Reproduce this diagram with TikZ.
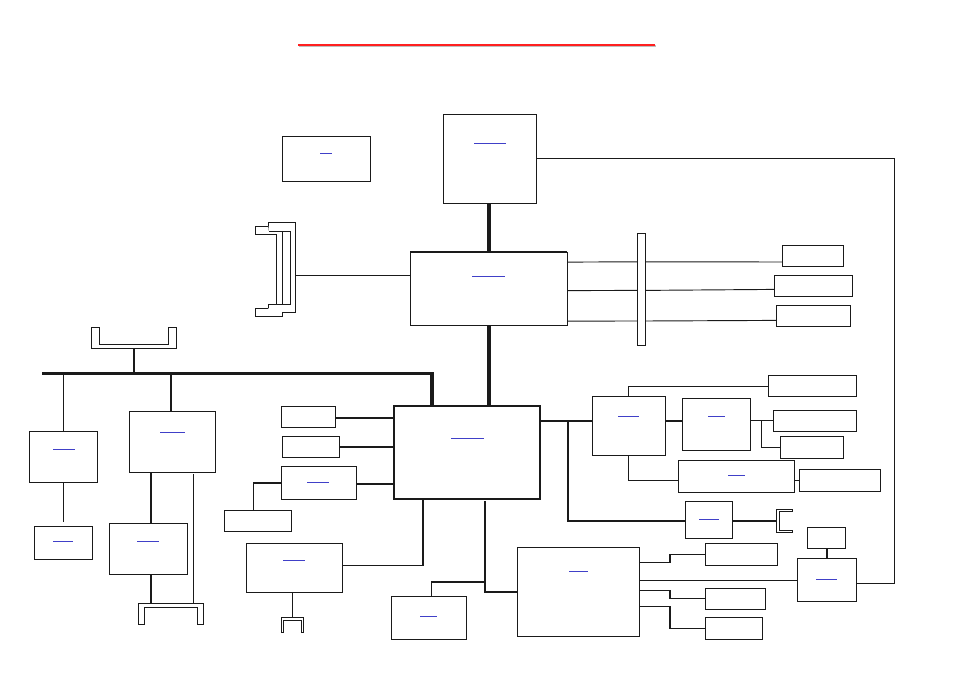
\documentclass[tikz,border=0pt]{standalone}
\definecolor{ink}{HTML}{1A1A1A}
\definecolor{linkblue}{HTML}{4040C8}
\definecolor{rulered}{HTML}{FF2020}
\newcommand{\pbox}[6][]{%
  \pgfmathsetmacro{\bw}{(#5-#3)*0.75}%
  \pgfmathsetmacro{\bh}{(#6-#4)*0.75}%
  \pgfmathsetmacro{\bcx}{(#5+#3)/2}%
  \pgfmathsetmacro{\bcy}{(#6+#4)/2}%
  \node[pbx,#1,minimum width=\bw pt,minimum height=\bh pt] (#2) at (\bcx,\bcy) {};}
\tikzset{
  x=0.75pt,y=-0.75pt,
  pbx/.style={draw=ink,fill=white,line width=0.8pt,inner sep=0pt,outer sep=0pt},
  fine/.style={draw=ink,line width=0.8pt},
  mid/.style={draw=ink,line width=1.3pt},
  wide/.style={draw=ink,line width=1.6pt},
  heavy/.style={draw=ink,line width=2.6pt},
  outline/.style={draw=ink,fill=white,line width=0.8pt},
  linkline/.style={draw=linkblue,line width=0.6pt},
}
\begin{document}
\begin{tikzpicture}
\useasboundingbox (0,0) rectangle (954,674);
% title rule
\draw[gray!50,line width=1.5pt] (299,46) -- (656,46);
\draw[rulered,line width=1.5pt] (298,45) -- (655,45);
% boxes
\pbox{note}{282.3}{136.3}{370.3}{181.3}
\pbox{cpu}{443.3}{114.3}{536.3}{203.3}
\pbox{nb}{410.3}{252.3}{567.3}{325.3}
\pbox{sb}{394}{406}{540.3}{499}
\pbox{bar}{637.3}{233.3}{645.3}{345.3}
\pbox{ra}{782.3}{245.3}{843.3}{266.3}
\pbox{rb}{774.3}{275.3}{852.3}{296.3}
\pbox{rc}{776.3}{305.3}{850.3}{326.3}
\pbox{la}{29.3}{431.3}{97.3}{482.3}
\pbox{lb}{34.3}{526.3}{92.3}{559.3}
\pbox{ma}{129.3}{411.3}{215.3}{472.3}
\pbox{mb}{109.3}{523.3}{187.3}{574.3}
\pbox{ia}{281.3}{406.3}{335.3}{427.3}
\pbox{ib}{282.3}{436.3}{339.3}{457.3}
\pbox{ic}{281.3}{466.3}{356.3}{499.3}
\pbox{id}{224.3}{510.3}{291.3}{531.3}
\pbox{ie}{246.3}{543.3}{342.3}{592.3}
\pbox{ig}{391.3}{596.3}{466.3}{639.3}
\pbox{big}{517.3}{547.3}{639.7}{636.3}
\pbox{pa}{592.3}{396.3}{665.3}{455.3}
\pbox{pb}{682.3}{398.3}{750.3}{450.3}
\pbox{pc}{768.3}{375.3}{856.3}{396.3}
\pbox{pd}{773.3}{410.3}{856.3}{431.3}
\pbox{pe}{780.3}{436.3}{843.3}{458.3}
\pbox{pf}{678.3}{460.3}{794.3}{492.3}
\pbox{pg}{799.3}{469.3}{880.3}{491.3}
\pbox{ph}{685.3}{501.3}{732.3}{538.3}
\pbox{qa}{807.3}{527.3}{845.3}{548.3}
\pbox{qb}{797.3}{558.3}{856.3}{601.3}
\pbox{qc}{705.3}{543.3}{777.3}{565.3}
\pbox{qd}{705.3}{588.3}{765.3}{609.3}
\pbox{qe}{705.3}{617.3}{762.3}{639.3}
% heavier edges
\draw[wide] (sb.north west) rectangle (sb.south east);
\draw[line width=1.5pt,draw=ink] (nb.north west) -- (nb.north east);
% connector shapes
\draw[outline] (268.3,222.3) -- (295.3,222.3) -- (295.3,312.3) -- (268.3,312.3) -- (268.3,304.3) -- (290.3,304.3) -- (290.3,231.3) -- (268.3,231.3) -- cycle;
\draw[outline] (268.3,226.3) -- (255.3,226.3) -- (255.3,234.3) -- (276.3,234.3) -- (276.3,304.3);
\draw[fine] (282.3,231.3) -- (282.3,304.3);
\draw[outline] (268.3,308.3) -- (255.3,308.3) -- (255.3,316.3) -- (282.3,316.3) -- (282.3,312.3);
\draw[outline] (91.3,327.3) -- (99.3,327.3) -- (99.3,344.3) -- (168.3,344.3) -- (168.3,327.3) -- (176.3,327.3) -- (176.3,348.3) -- (91.3,348.3) -- cycle;
\draw[outline] (138.3,624.3) -- (138.3,603.3) -- (203.3,603.3) -- (203.3,624.3) -- (197.3,624.3) -- (197.3,607.3) -- (144.3,607.3) -- (144.3,624.3) -- cycle;
\draw[outline] (281.3,632.3) -- (281.3,617.3) -- (303.7,617.3) -- (303.7,632.3) -- (301.3,632.3) -- (301.3,620.3) -- (283.3,620.3) -- (283.3,632.3) -- cycle;
\draw[outline] (792.7,509.3) -- (776.3,509.3) -- (776.3,532.7) -- (792.7,532.7) -- (792.7,530.3) -- (779.3,530.3) -- (779.3,511.7) -- (792.7,511.7) -- cycle;
\coordinate (cnL) at (295.3,275.3);
\coordinate (cnT) at (134,348.3);
\coordinate (cnB) at (151,603.3);
\coordinate (cnBr) at (193.3,603.3);
\coordinate (cnF) at (292.3,617.3);
\coordinate (cnE) at (776.3,521);
\coordinate (busL) at (42,373.3);
\coordinate (busR) at (433.5,373.3);
% main links
\draw[heavy] (489,0 |- cpu.south) -- (489,0 |- nb.north);
\draw[heavy] (489,0 |- nb.south) -- (489,0 |- sb.north);
\draw[heavy] (busL) -- (busR);
\draw[heavy] (432,373.3) -- (432,0 |- sb.north);
\draw[wide] (cnT) -- (134,373.3);
\draw[wide] (171,373.3) -- (171,0 |- ma.north);
\draw[fine] (63.3,373.3) -- (63.3,0 |- la.north);
\draw[fine] (63.3,0 |- la.south) -- (63.3,521.7);
\draw[wide] (151,0 |- ma.south) -- (151,0 |- mb.north);
\draw[wide] (151,0 |- mb.south) -- (cnB);
\draw[fine] (193.3,474) -- (cnBr);
% upper left and upper right
\draw[fine] (cnL) -- (nb.west |- cnL);
\draw[fine] (cpu.east |- 0,158.3) -- (894.3,158.3) -- (894.3,583.3) -- (qb.east |- 0,583.3);
\draw[draw=ink,line width=0.7pt] (nb.east |- 0,262.1) -- (bar.west |- 0,261.8);
\draw[draw=ink,line width=0.7pt] (bar.east |- 0,261.8) -- (ra.west |- 0,262.0);
\draw[draw=ink,line width=0.7pt] (nb.east |- 0,290.6) -- (bar.west |- 0,290.4);
\draw[draw=ink,line width=0.7pt] (bar.east |- 0,290.4) -- (rb.west |- 0,289.4);
\draw[draw=ink,line width=0.7pt] (nb.east |- 0,321.1) -- (bar.west |- 0,321);
\draw[draw=ink,line width=0.7pt] (bar.east |- 0,321) -- (rc.west |- 0,320.4);
% south bridge, left
\draw[wide] (ia.east |- 0,418) -- (sb.west |- 0,418);
\draw[wide] (ib.east |- 0,447) -- (sb.west |- 0,447);
\draw[wide] (ic.east |- 0,484) -- (sb.west |- 0,484);
\draw[wide] (ic.west |- 0,483) -- (253.3,483);
\draw[fine] (253.3,483) -- (253.3,0 |- id.north);
\draw[mid] (423,0 |- sb.south) -- (423,565.3);
\draw[fine] (423.5,565.3) -- (ie.east |- 0,565.3);
\draw[fine] (292.3,0 |- ie.south) -- (cnF);
\draw[mid] (485,501) -- (485,592) -- (big.west |- 0,592);
\draw[mid] (485,582) -- (431.3,582);
\draw[fine] (431.3,582) -- (431.3,0 |- ig.north);
% south bridge, right
\draw[wide] (sb.east |- 0,421) -- (pa.west |- 0,421);
\draw[wide] (pa.east |- 0,421) -- (pb.west |- 0,421);
\draw[wide] (568,421) -- (568,521) -- (ph.west |- 0,521);
\draw[wide] (ph.east |- 0,521) -- (cnE);
\draw[fine] (628.3,0 |- pa.north) -- (628.3,386.3) -- (pc.west |- 0,386.3);
\draw[fine] (628.3,0 |- pa.south) -- (628.3,480.3) -- (pf.west |- 0,480.3);
\draw[fine] (pb.east |- 0,420.7) -- (pd.west |- 0,420.7);
\draw[fine] (761.3,420.7) -- (761.3,447.3) -- (pe.west |- 0,447.3);
\draw[fine] (pf.east |- 0,480.3) -- (pg.west |- 0,480.3);
\draw[wide] (827,0 |- qa.south) -- (827,0 |- qb.north);
\draw[fine] (big.east |- 0,580.3) -- (qb.west |- 0,580.3);
\draw[fine] (big.east |- 0,562.3) -- (670,562.3);
\draw[mid] (670,562.7) -- (670,554);
\draw[fine] (670,554.3) -- (qc.west |- 0,554.3);
\draw[fine] (big.east |- 0,590.3) -- (670,590.3);
\draw[mid] (670,590) -- (670,598.6);
\draw[fine] (670,598.3) -- (qd.west |- 0,598.3);
\draw[fine] (big.east |- 0,606.3) -- (670,606.3);
\draw[mid] (670,606) -- (670,628.6);
\draw[fine] (670,628.3) -- (qe.west |- 0,628.3);
% link underlines
\draw[linkline] (320,153.3) -- (331.7,153.3);
\draw[linkline] (474,143.3) -- (505.7,143.3);
\draw[linkline] (472,276.3) -- (505,276.3);
\draw[linkline] (53,449.3) -- (74.7,449.3);
\draw[linkline] (53,541.3) -- (72.7,541.3);
\draw[linkline] (160,432.3) -- (184.7,432.3);
\draw[linkline] (137,541.3) -- (158.7,541.3);
\draw[linkline] (307,482.3) -- (328.7,482.3);
\draw[linkline] (451,438.3) -- (483.7,438.3);
\draw[linkline] (283,560.3) -- (304.7,560.3);
\draw[linkline] (420,616.3) -- (437,616.3);
\draw[linkline] (569,571.3) -- (588,571.3);
\draw[linkline] (618,416.3) -- (639,416.3);
\draw[linkline] (708,416.3) -- (725,416.3);
\draw[linkline] (728,475.3) -- (744.7,475.3);
\draw[linkline] (699,519.3) -- (718.7,519.3);
\draw[linkline] (816,579.3) -- (837,579.3);
\end{tikzpicture}
\end{document}
